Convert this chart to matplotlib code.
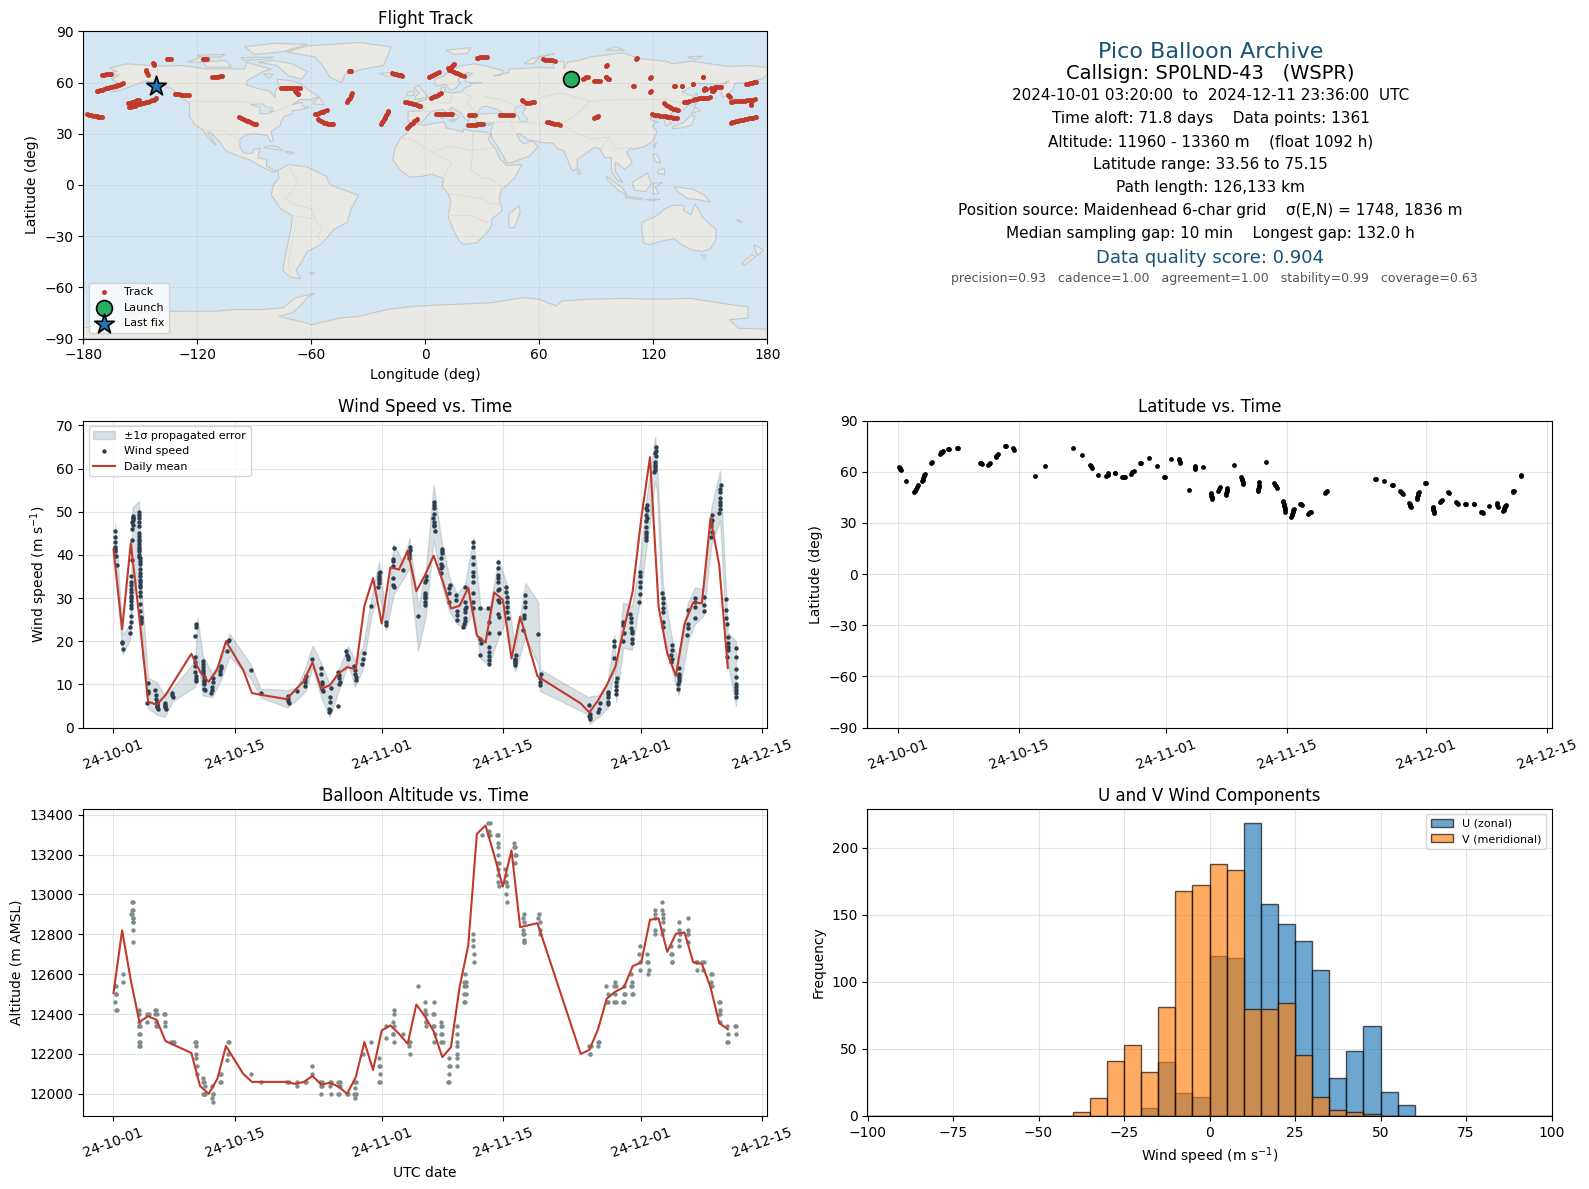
import matplotlib
matplotlib.use('Agg')
import matplotlib.pyplot as plt
import matplotlib.dates as mdates
from datetime import datetime
import numpy as np
import pandas as pd

# --- wind speed samples (days since 2024-10-01, m/s), one row per cluster ---
wind_t = [0.2,0.2,0.21,0.22,0.22,0.23,0.25,0.4,
 1.03,1.04,1.05,
 1.95,1.96,1.97,1.98,1.99,2.0,2.0,2.02,2.04,2.05,2.1,2.12,2.15,2.18,2.2,2.22,2.24,
 2.9,2.9,2.92,2.93,2.93,2.95,2.95,2.97,2.97,3.0,3.0,3.0,3.02,3.03,3.03,3.05,3.05,3.06,3.08,3.1,3.1,3.13,3.14,3.15,3.15,
 4.0,4.02,4.03,3.9,
 4.85,4.9,4.95,5.0,5.03,5.06,5.1,
 5.9,5.95,6.0,6.03,
 6.75,6.8,6.85,
 9.55,9.5,9.45,9.45,9.46,9.46,9.47,9.48,9.5,9.52,
 10.3,10.35,10.35,10.4,10.4,10.42,10.44,10.46,10.5,10.55,
 11.5,11.45,11.4,11.35,11.3,
 12.4,12.4,12.35,12.35,
 13.3,13.25,13.15,
 15.9,17.0,
 20.15,20.2,20.2,20.25,
 21.2,
 22.2,22.15,22.15,22.1,
 23.0,
 24.0,24.0,24.05,24.1,24.15,24.2,
 25.1,25.05,25.0,24.95,25.0,24.95,26.0,
 26.0,26.05,26.1,26.15,26.1,
 26.9,27.0,27.1,27.15,
 27.85,27.9,27.95,28.0,28.0,
 28.9,28.8,28.7,
 29.75,
 30.75,30.72,30.7,30.65,30.62,
 31.5,31.55,
 32.4,32.35,32.35,32.3,32.35,32.45,
 33.5,
 34.3,34.25,34.2,34.15,
 35.2,
 36.15,36.1,36.05,36.05,36.0,36.0,36.05,36.05,
 37.0,37.05,36.95,37.05,37.05,37.1,
 38.0,37.95,37.9,37.85,37.85,37.8,
 38.85,38.8,38.8,38.75,
 39.6,39.6,39.65,39.7,39.65,
 40.65,40.65,40.7,40.6,40.6,40.55,40.45,
 41.55,41.6,41.6,41.6,41.6,41.55,41.5,41.5,
 42.35,42.4,42.45,42.4,
 43.3,43.35,43.4,43.4,43.45,43.45,43.4,43.4,
 44.45,44.45,44.45,44.45,44.45,44.4,44.5,44.4,44.5,44.5,
 45.4,45.4,45.45,45.5,45.5,45.55,
 46.5,46.45,46.4,46.35,
 47.6,47.6,47.55,47.45,47.4,47.3,
 49.1,
 49.4,49.35,49.3,49.25,
 54.95,55.05,55.1,
 56.2,56.15,56.05,
 57.1,57.1,57.15,57.2,
 57.85,57.9,57.9,
 58.15,58.1,58.1,58.05,
 58.85,58.9,59.0,58.85,
 59.75,59.8,59.85,59.9,59.95,59.95,
 60.85,60.9,60.85,60.8,60.75,
 61.65,61.65,61.6,61.6,61.6,61.55,61.5,
 62.65,62.65,62.65,62.6,62.55,62.5,
 63.4,63.45,63.45,63.5,63.55,63.5,
 64.5,64.5,64.45,64.45,
 65.4,65.35,65.3,65.25,65.2,
 66.45,66.35,66.35,66.3,
 67.25,67.2,67.2,67.2,
 68.2,68.2,68.25,
 69.15,69.15,69.1,69.05,
 70.2,70.15,70.1,70.05,70.0,
 70.75,70.8,70.8,70.85,
 71.0,71.0,71.0,70.95,
 71.9,71.9,71.95,71.95,71.95,71.98,71.98,
 # denser parts of the columns
 2.2,2.22,2.05,2.02,2.0,1.98,
 2.95,2.96,3.0,3.03,3.05,3.06,3.07,3.12,
 5.0,5.05,6.0,10.4,10.45,
 30.7,30.68,32.35,34.2,
 36.05,37.0,37.02,37.05,38.0,37.95,
 40.65,40.6,41.6,41.58,44.45,44.5,45.45,46.45,46.42,
 55.0,55.05,57.15,58.1,
 59.85,59.9,60.85,61.6,61.62,61.58,61.55,
 62.62,62.6,62.55,63.45,64.5,65.3,65.3,
 69.1,69.12,70.1,70.12,70.08,71.0,71.95,71.95]
wind_v = [45.5,44.1,43.1,41.9,41.3,40.8,39.8,37.7,
 19.9,19.7,18.3,
 21.8,23.4,24.5,25.8,27.8,29.3,29.9,31.5,33,33.8,38.8,43.4,46,47.7,48.1,48.6,48.5,
 49.9,49.3,48.5,47.7,46.6,45.1,43.6,43.2,41.9,41.4,40.8,40,39.2,38.5,37.8,35.9,34.2,33.8,32.5,30.5,28.6,25.3,24.7,25.6,24.2,
 10.4,8.4,7.9,5.8,
 8.6,7.5,6.7,6,5.3,4.8,4.4,
 5.7,5.2,4.7,4.3,
 7.9,7.5,7.1,
 24.1,23.4,21.2,16.4,15.2,14.3,12.9,12,11.2,10.9,
 15.4,14.8,14.1,13.3,12.5,11.8,11,10,9,8.7,
 11.4,10.6,9.4,8.7,8.1,
 14.3,13.7,13.1,12.5,
 20.4,20,17.7,
 13.3,8,
 7.3,6.7,6.2,5.8,
 8.4,
 12,11.2,10.6,9.6,
 16,
 13.9,12.5,10.6,10,9,8.4,
 9.2,7,6,4.4,4,3.5,5.1,
 12.9,12.1,11.4,10.6,10,
 17.7,16.9,16.4,15.9,
 14.3,13.3,12.5,11.8,11,
 17.2,15.8,14.8,
 28.2,
 36.1,35.2,34.2,33.4,32.6,
 24.4,23.7,
 41.5,39.1,37.5,34.6,33,32.5,
 36.5,
 41.9,41.1,40.4,39.2,
 25.8,
 35,34.2,33.8,30.7,30.3,29.9,29.2,28.4,
 52.2,50.8,48.5,47.7,46.6,45.6,
 41.4,40.4,39.2,38,36.9,35.7,
 33,32.3,31.1,29.2,
 30.7,29.5,27.1,26.1,24.9,
 32.5,29.2,28,26.8,25.3,24.1,23.4,
 42.9,41.9,39.6,36.1,33.8,31.1,29.2,27.6,
 27.6,20.6,19.7,16.9,
 27.8,24.5,21.8,18.7,17.6,16.6,15.6,14.8,
 38.4,36.9,35.3,33.8,31.9,29.5,29.2,26.4,25.7,21.8,
 32.6,31.5,30.3,28,26.8,25.3,
 16.9,16,15.2,14.6,
 30.7,29.2,28,26.1,25.3,22.6,
 21.6,
 12.5,11.4,10.6,9.8,
 5.2,3.2,2.1,
 5.6,4.4,3.5,
 8.3,7.1,6,5.4,
 20.1,18.9,16.2,
 11.4,10.6,8.7,7.7,
 24.4,23.7,21.8,20,
 26.4,24.5,23,21.8,20.6,19.5,
 36.1,35,33.8,32.6,29.2,
 51.6,50.4,49.3,47.9,45.4,44.2,43.5,
 65.1,64.1,62.8,60.9,59.7,59.3,
 31.1,29.9,28.8,26.8,24.5,23.4,
 19.1,17.9,16.8,15.2,
 13.7,12.5,11.4,10.2,9,
 27.2,24.1,23,21.4,
 29.9,29,28,25.3,
 30.3,28.5,27,
 49.3,48.1,46.6,44.2,
 56.2,54.5,53.1,51.6,49.7,
 29.7,27.2,25.3,23.9,
 21,19.5,17.9,16.4,
 18.5,16.4,13.5,11.8,10.2,8.7,7.1,
 47.0,49.0,35.0,32.0,30.5,28.5,
 44.3,42.5,39.5,36.8,35.0,33.0,31.5,27.0,
 5.7,5.0,5.0,12.9,10.5,
 35.7,34.7,38.5,40.0,
 31.2,51.5,49.5,47.0,40.9,37.5,
 27.4,24.7,37.8,35.0,34.6,32.0,29.0,15.6,15.0,
 2.7,2.4,7.7,9.7,
 25.3,22.4,31.0,50.9,48.6,46.5,44.8,
 63.5,61.5,60.3,27.8,16.0,12.0,10.8,
 47.4,45.4,55.3,52.3,50.6,18.7,9.5,7.9]

# propagated error envelope
band_t = [0.2,1.05,1.95,2.2,2.95,3.1,3.3,4.0,5.0,5.9,6.8,9.45,9.7,10.3,11.4,12.4,13.4,15.8,17.0,20.1,21.2,22.2,23.0,24.0,25.0,26.1,27.1,27.9,28.8,29.8,30.7,31.5,32.4,33.5,34.2,35.2,36.1,37.0,37.9,38.8,39.7,40.6,41.6,42.4,43.4,44.5,45.4,46.4,47.6,49.1,49.3,54.9,55.0,56.1,57.1,57.9,58.1,58.9,59.9,60.8,61.6,62.6,62.8,63.5,64.5,65.3,66.4,67.2,68.2,69.1,70.1,70.8,71.0,71.95]
band_lo = [36.5,17,20.5,30,36,23,22,4.5,3,2.5,6,9.5,17,7.5,7,11,16.5,11.5,7,4.7,6.5,8.5,14,7,2.5,9,14.8,9.5,13.5,26,31,22.5,31,34.5,37,17.8,26,43.5,33.5,27,24,23,27,16,14.5,21,25,13,21,14.5,8.5,3,0.8,2.5,4.5,14,6,18.5,18,29,42,57,55,22,14,7.5,20,24,26,42.5,48,22,15,5]
band_hi = [47.3,21.5,24,51,52.5,40,30,11.5,10.5,7.5,9,15.5,25.5,16.8,12.5,15.8,21.8,14.8,9,8.7,9.3,14,19,15,10,13.8,18.9,15.5,18.5,30,38.5,25.5,42.5,38,44,28,36.6,56.3,43.3,34.9,31,33,44,28,27,39,33.5,18,33.5,29,13.5,7,7.2,7.5,10.5,21.5,13,29,28,38,53,67.4,62,33,21,15,29,32.5,32,51,59.5,31,22,20]

# daily means, shared day numbers (missing days have no data)
daily_t = [0,1,2,3,4,5,6,9,10,11,12,13,15,16,17,20,21,22,23,24,25,26,27,28,29,30,31,32,33,34,35,36,37,38,39,40,41,42,43,44,45,46,47,49,54,55,56,57,58,59,60,61,62,63,64,65,66,67,68,69,70,71]
daily_wind = [41.3,22.8,42.7,25.3,6.0,5.3,7.5,17.1,12.9,10.6,13.5,20,13.3,8,7.6,6.6,8.7,10.8,15.1,9,9.8,12.5,14,13.5,28.2,34.6,24.1,37.1,36.6,41,31.6,35.3,39.8,34.2,27.6,28.2,32.4,21.3,19.7,31.3,29.6,16,25.7,11.9,5.6,3.5,6.3,9.8,14.1,23,31.5,48.5,62.6,28,17.2,12,24.1,29,28.8,48.5,37.7,13.8]
daily_alt = [12505,12820,12570,12360,12390,12370,12265,12205,12040,12000,12075,12240,12100,12060,12060,12060,12050,12060,12090,12047,12055,12037,12000,12084,12260,12120,12318,12343,12301,12251,12448,12388,12314,12184,12234,12535,12744,13304,13346,13196,13040,13221,12836,12856,12200,12221,12324,12477,12513,12535,12640,12660,12873,12880,12712,12803,12809,12660,12652,12535,12355,12324]

# altitude samples, rows per cluster
alt_t = [0.2,0.3,0.25,0.25,0.2,0.25,0.4,
 1.05,1.05,
 2.1,2.2,2.1,2.2,2.15,2.05,2.2,2.25,2.2,2.3,2.3,2.3,
 3.0,3.0,3.0,2.9,3.1,2.9,3.05,2.9,3.05,2.9,3.05,3.0,
 3.85,4.1,3.9,
 4.85,4.95,4.85,5.0,4.9,4.9,5.0,
 5.85,5.95,5.95,5.9,
 6.7,6.85,6.95,
 9.45,9.55,9.5,9.5,9.55,9.6,9.65,
 10.4,10.3,10.45,10.55,10.6,10.4,10.5,
 11.4,11.5,11.35,11.55,11.45,
 12.3,12.45,12.3,12.45,
 13.25,13.35,13.2,13.15,
 15.9,17.0,
 20.1,20.25,
 21.2,21.2,
 22.1,22.3,
 23.0,23.0,
 23.9,24.1,23.95,24.1,24.0,
 25.0,25.15,25.0,25.1,
 26.0,26.15,26.05,26.15,25.95,26.1,
 26.95,27.1,
 27.85,28.0,27.9,27.85,28.0,27.95,
 28.85,
 29.8,
 30.7,30.75,30.65,30.75,30.7,30.75,
 31.5,31.55,
 32.4,32.4,32.3,32.45,32.35,32.4,32.35,
 33.5,
 34.15,34.3,34.2,34.25,
 35.25,
 36.0,36.05,35.95,36.1,36.1,36.15,36.1,
 37.0,37.05,36.95,37.05,36.95,37.1,37.0,
 37.9,37.85,38.0,37.85,38.0,37.9,38.05,
 38.75,38.85,38.8,38.8,38.75,38.7,
 39.7,39.75,39.7,39.65,39.7,39.65,39.65,
 40.6,40.55,40.7,40.5,40.7,40.5,40.7,40.55,40.65,
 41.55,41.6,41.6,41.65,41.65,
 42.55,
 43.3,43.5,43.4,43.45,43.5,
 44.35,44.45,44.4,44.45,44.45,44.4,44.5,44.45,44.4,44.45,44.55,
 45.3,45.4,45.35,45.4,45.45,45.35,45.45,
 46.3,46.25,46.45,46.5,46.4,46.45,
 47.45,47.35,47.45,47.35,47.3,47.45,47.5,47.5,47.45,
 49.15,49.1,49.25,49.3,49.35,
 55.0,55.15,55.05,55.1,
 56.0,56.15,56.05,
 56.95,57.1,57.05,57.2,
 58.0,57.9,58.05,58.0,57.85,58.05,
 59.0,58.95,59.1,58.9,59.05,
 59.85,59.9,59.95,59.8,60.0,59.9,
 60.9,60.75,60.9,60.85,
 61.7,61.75,61.65,61.9,61.8,
 62.6,62.6,62.6,62.55,62.6,
 63.4,63.4,63.45,63.5,63.45,63.45,63.4,
 64.4,64.55,64.45,64.55,64.5,
 65.35,65.4,65.45,65.3,65.4,
 66.35,66.45,66.35,66.45,66.4,
 67.3,67.4,67.4,
 68.05,68.2,68.1,
 69.05,69.2,69.1,69.0,69.2,
 69.95,70.05,70.05,70.1,70.0,70.05,
 70.95,71.0,70.9,71.05,
 71.85,72.0,71.9]
alt_v = [12540,12540,12500,12500,12460,12420,12420,
 12600,12560,
 12960,12960,12920,12920,12900,12900,12880,12880,12860,12860,12820,12760,
 12420,12400,12360,12340,12340,12300,12300,12260,12260,12240,12240,12340,
 12400,12400,12360,
 12420,12420,12400,12400,12360,12340,12340,
 12400,12400,12360,12340,
 12260,12260,12260,
 12260,12260,12240,12200,12180,12140,12100,
 12080,12060,12060,12040,12000,12000,12000,
 12040,12000,11980,11960,12000,
 12100,12100,12060,12060,
 12260,12260,12200,12170,
 12100,12060,
 12060,12060,
 12060,12040,
 12060,12060,
 12140,12100,
 12060,12060,12040,12040,12000,
 12060,12060,12040,12000,
 12060,12060,12040,12040,12000,12000,
 12000,12000,
 12060,12060,12030,12000,12000,11980,
 12200,
 12260,
 12180,12140,12140,12100,12060,12060,
 12340,12280,
 12420,12400,12360,12340,12300,12260,12300,
 12300,
 12260,12260,12240,12200,
 12540,
 12460,12420,12400,12400,12360,12340,12360,
 12460,12400,12400,12340,12340,12300,12260,
 12360,12340,12340,12300,12300,12260,12260,
 12180,12140,12140,12100,12060,12060,
 12340,12300,12260,12240,12200,12180,12140,
 12600,12560,12560,12540,12540,12500,12500,12460,12460,
 12800,12770,12740,12700,12660,
 13300,
 13360,13360,13320,13300,13300,
 13300,13300,13260,13240,13200,13160,13160,13130,13100,13060,13040,
 13130,13100,13060,13060,13040,13000,12960,
 13260,13240,13240,13200,13200,13160,
 12900,12880,12860,12820,12800,12800,12770,12760,12760,
 12900,12880,12860,12820,12800,
 12240,12240,12200,12200,
 12260,12260,12240,
 12540,12500,12460,12460,
 12560,12540,12540,12500,12460,12460,
 12540,12500,12500,12460,12460,
 12600,12560,12540,12540,12500,12500,
 12740,12700,12660,12620,
 12700,12660,12660,12620,12600,
 12920,12900,12880,12820,12800,
 12960,12920,12900,12880,12860,12820,12800,
 12740,12700,12700,12660,12660,
 12860,12820,12800,12770,12740,
 12880,12820,12800,12800,12760,
 12660,12660,12620,
 12660,12660,12620,
 12600,12600,12560,12540,12540,
 12460,12460,12420,12400,12400,12360,
 12340,12300,12260,12260,
 12340,12340,12300]

# latitude samples, several per short drift segment
lat_t = [0.1,0.2,0.3,0.4,1.0,1.9,2.0,2.1,2.2,2.3,2.85,2.9,2.95,3.0,3.05,3.1,3.85,3.95,4.85,4.95,5.05,5.15,5.25,5.8,5.95,6.85,6.95,9.5,9.6,9.7,10.45,10.55,10.65,11.3,11.4,11.5,11.6,12.35,12.45,13.35,13.45,15.9,17.0,20.2,21.3,22.25,22.35,22.45,23.1,24.1,24.25,24.35,25.05,25.15,25.95,26.1,26.25,27.0,27.1,27.25,27.95,28.1,29.0,29.9,30.75,30.9,31.6,32.5,32.55,32.6,32.65,33.6,34.3,34.35,34.4,35.3,36.2,36.22,36.25,36.28,36.3,37.0,37.1,37.2,37.9,37.95,38.0,38.05,38.1,38.9,39.7,39.75,39.8,39.85,39.9,41.6,41.65,41.7,41.75,41.8,42.6,43.5,43.6,43.7,43.8,44.5,44.55,44.6,44.65,44.7,44.75,44.8,45.5,45.55,45.6,45.65,45.7,45.75,46.5,46.6,46.7,47.4,47.5,47.6,47.7,49.4,49.5,49.6,55.1,55.3,56.2,57.15,57.25,58.05,58.15,58.25,58.35,59.1,59.15,59.2,59.25,59.3,60.0,60.05,60.1,60.15,60.2,60.95,61.05,61.8,61.85,61.9,61.95,62.0,62.65,62.75,62.85,63.55,63.65,64.55,64.65,64.75,65.5,65.7,66.55,66.65,67.45,67.55,67.65,68.3,69.2,69.3,69.4,70.0,70.05,70.1,70.15,70.2,70.3,71.05,71.15,71.25,72.0,72.05]
lat_v = [62.7,62.2,61.7,61.2,54.3,48,49,50,51,52,54.3,55.3,56.4,57.4,58.1,58.8,65,65.6,70.4,70.8,71.4,71.8,72.2,73.5,73.5,73.7,73.7,65.2,64.9,64.6,63.7,64.4,65.1,68.6,69.3,70,70.6,74.9,74.9,73.9,73,57.6,63.3,74.1,70,63.8,63.2,62.4,58.2,57.6,58.3,59,59.2,59.2,57,57,56.9,58.8,59.6,60.4,64.9,65.4,67.8,63.5,57,57,67.5,67.6,66.8,66,65.1,49.6,61.8,62.5,63.3,62.9,47.6,46.8,45.8,45,44.1,49,49.9,50.8,46.5,47.5,48.5,49.5,50.6,63.7,56.9,55.9,55,54,52.9,48.6,49.9,51,52.5,53.9,65.7,53.5,52.5,51.4,50.2,43.1,42,41,39.7,38.5,37.4,36.3,33.6,34.5,35.5,36.5,37.4,38.2,41.2,41,40.8,35.5,35.9,36.2,36.5,47.6,48.2,48.8,55.9,55.9,54.7,52.5,52.3,49,48.2,47.5,46.7,41.6,41,40.5,40,39.6,44.1,45.2,46.2,47.3,48.4,53.3,53.5,39.6,38.8,37.8,36.8,36,42.2,42.9,43.6,48,47.6,42.2,41.6,41,41,41.2,41.2,41,36.7,36.3,35.9,39.8,41.6,40.6,39.6,36.9,37.8,38.7,39.6,40.2,40.8,48,48.5,49,57.5,58]

# histogram counts per 5 m/s bin, -100..100
u_counts = [0]*16 + [6,40,17,14,119,118,218,158,143,130,109,28,48,67,18,8] + [0]*8
v_counts = [0]*12 + [3,13,41,53,33,81,168,172,188,183,80,80,84,45,14,4,3,1] + [0]*10
hist_edges = np.arange(-100, 105, 5)

# map track fixes, one row per drift segment
track_lon = [-178,-177,-176,-175,-174,-173,-172,-171,-170,
 -173,-172,-171,-170,-169,-168,-167,-166,-165,-164,-163,-162,-161,-160,-159,
 -170,-169,-168,-167,-166,-165.5,
 -156.5,-155.5,-154.5,-153.5,-152.5,-151.5,-150.5,
 -156,-155,-154,-153,-152,-151,-150,-149,-148,-147,-146,-145,-144,-143,-142,-141.5,
 -147,-146.7,-146.4,-146,-143.5,-143,-142.5,
 -136,-135,-134,
 -131.8,-130.5,-129.5,-128.5,-127.5,-126.5,-125.5,-124.2,
 -117,-116,-115,
 -112.3,-111,-110,-109,-108,-106.7,
 -97.8,-97,-96,-95,-94,-93,-92,-91,-90,-89.3,
 -76,-75,-74,-73,-72,-71,-70,-69,-68,-67,-66,-68.5,-68,-67.5,-67,-66.7,
 -40.2,-39.5,-38.8,
 -40.9,-40.5,-40.2,-39.8,-39.3,-38.9,-38.5,
 -57.8,-57,-56,-55,-54,-53,-51.9,
 -56.6,-56,-55,-54,-53,-52,-51,-50,-49,-48.4,
 -23,-22.6,-22.2,-21.8,-21.4,-21,-20.6,-20.2,-19.8,-19.5,
 -17.4,-16.5,-15.5,-14.5,-13.5,-12.8,-12,
 -9.6,-9,-8.2,-7.4,-6.6,-5.8,-5,-4.5,
 -10.4,-9.5,-8.5,-7.5,-6.5,-5.5,-4.5,-3.5,-2.6,
 2.1,3,4,5,6,7.3,
 3.3,4.2,5,5.8,6.6,7.5,8.4,
 12.2,13,14,15,16,17,18,19,20.2,12.5,13,13.5,14,14.5,15,
 5.6,6.5,7.5,8.5,9.5,10.5,11.5,12.5,13.5,14.3,
 22.5,23.5,24.5,25.5,26.5,27.5,28.5,29.5,30.3,
 23.2,24,25,26,
 27.2,28,29,30,31,32,32.6,
 39.2,40,41,42,43,44,45,46,
 51,51.5,53.1,54,55,56,57.3,
 62,63,64,65,66,67,68.1,
 63.9,65,66,67,68,69,70,70.9,
 83.2,84,84.8,85.5,89,90,91,91.9,
 95.4,95.6,
 94.9,95.4,95.8,96.2,96.6,
 89,89.7,90.4,91,
 109.5,109.9,110.9,111.3,118.4,118.6,118.4,118.6,
 119.6,120.5,121.5,122.5,123.5,124.5,125.5,126.5,127.5,128.5,129.5,130.5,131.5,132.5,
 125.9,126.8,127.7,128.6,129.5,130.5,131.5,132.3,133,
 130.9,131.5,134.9,135.3,140.7,141.2,
 136,137,138,139,140.7,141.9,143,144,145,146,147,148,149,150.1,
 146.1,146.4,147,147,147.4,147.6,
 150.6,151.5,152.5,153.5,154.5,155.5,150.8,151.5,152.2,
 159.5,159.9,160.2,
 160.7,161.5,162.5,163.5,164.5,165.5,166.5,167.5,168.5,169.5,170.5,171.5,172.5,173.6,171.3,171.7,
 160.7,161.5,162.5,163.5,164.5,165.5,166.5,167.5,168.5,169.5,170.5,171.5,172.5,173.4,174.1,
 168.9,170,171,172,173.2,174.3]
track_lat = [41.5,41.2,41,40.7,40.5,40.2,40,40,40,
 54.8,55.2,55.5,55.9,56.2,56.6,56.9,57.3,57.6,57.9,58.2,58.5,58.8,59.2,59.5,
 64.3,64.6,64.8,64.9,65,65,
 47.8,48.1,48.4,48.8,49.1,49.6,50,
 45.5,45.9,46.2,46.5,46.9,47.2,47.5,47.9,48.2,48.5,48.9,49.2,49.5,49.8,50.4,50.8,
 67.3,66.5,65.5,64.4,71.2,70.7,70.2,
 73.6,73.6,73.6,
 53.3,53.2,53.1,53,52.8,52.7,52.6,52.5,
 73.6,73.6,73.6,
 63.4,63.4,63.5,63.5,63.6,63.6,
 39.6,39.2,38.6,38.2,37.6,37.3,37,36.5,36,35.5,
 56.6,56.6,56.7,56.7,56.8,56.8,56.8,56.9,56.9,57,57,55,54.5,54,53.6,53.3,
 66.9,67,67,
 48.8,49.6,50.3,51,52,53,54,
 41.3,41.7,42.2,42.6,43,43.5,43.9,
 38.6,38,37.5,37,36.5,36.2,36,36,36,36,
 36,36.8,37.6,38.4,39.2,40,40.8,41.6,42.6,43.5,
 65.4,65.1,64.9,64.7,64.4,64.2,64,
 33.5,34.1,35,35.8,36.6,37.4,38.1,38.6,
 48.8,48.5,48.2,47.9,47.5,47.2,46.9,46.5,46.2,
 63,63.6,64.2,64.9,65.6,66.4,
 50.7,51.5,52,52.4,52.9,53.3,53.7,
 68.3,67.5,67,66.4,65.9,65.4,65,64.5,64,67.3,68,69,69.6,70.2,70.8,
 41.3,41.3,41.3,41.3,41.3,41.3,41.3,41.3,41.3,41.3,
 34.9,35,35.1,35.3,35.4,35.6,35.8,35.9,36,
 40.8,40.8,40.8,40.8,
 74.6,74.7,74.8,74.8,74.8,74.8,74.8,
 40.8,40.8,40.8,40.8,40.8,40.8,40.8,40.8,
 49.5,49,48.2,48.2,48.2,48.4,48.6,
 73.6,73.5,73.4,73.2,73.1,73,72.8,
 37,36.8,36.5,36.2,36,35.8,35.6,35.3,
 61.9,62.5,63,63.4,61,60.9,60.8,60.7,
 70,70.5,
 63.4,63,62.6,62.2,61.9,
 39.4,39.8,40.1,40.4,
 57.8,57.8,74,74.4,62.4,63,54.2,54.8,
 41.3,41.1,41,40.8,40.7,40.5,40.3,40.2,40,39.8,39.6,39.4,39.2,39,
 47.8,47.1,46.4,45.8,45.3,44.8,44.3,44.1,43.9,
 57.9,57.9,58.1,58.1,59.3,59.3,
 48.4,48.6,48.8,49.1,49.7,50.5,50.6,50.7,50.8,50.9,51,51.1,51.2,51.3,
 63,63.2,55.6,56.4,57,56.2,
 57,57.1,57.3,57.4,57.5,57.6,55,55,55.4,
 52.7,52,51.5,
 48.8,48.9,49,49.1,49.1,49.2,49.2,49.3,49.4,49.5,49.6,49.7,49.9,50.1,47.4,46.9,
 36.5,36.7,37,37.3,37.5,37.8,38,38.3,38.5,38.8,39,39.3,39.5,39.8,40,
 58.9,59.3,59.6,59.9,60.1,60.3]
launch_lon, launch_lat = [76.5], [62.0]
last_lon, last_lat = [-141.6], [58.0]

# land outlines (lon, lat)
eurasia = [(-9,37),(-9,43),(-2,43.5),(-1,46),(-4.5,48.5),(1.5,50.5),(4,52),(8,54),(8.5,57),(10.5,57.5),(10.5,54.5),(14,54),(19,54.5),(21,57),(24,58),(24,59.5),(30,60),(23,60),(21,61),(22,63.5),(25,65.5),(22,65.8),(18,63),(17,61),(18.5,60),(16,56.5),(13,55.5),(11,59),(6,58),(5,60),(5,62),(10,64),(14,68),(20,70),(26,71),(31,70),(41,67),(40,64.5),(36,64),(44,66),(44,68),(54,68.5),(60,69),(68,68.5),(67,72),(73,72.5),(73,68),(75,72),(81,73),(87,75),(104,77.5),(113,74),(127,72.5),(130,71),(140,72.5),(150,71),(160,69.5),(170,70),(180,69),(180,65),(178,62.5),(170,60),(163,59.5),(162,56),(156.5,51),(155.5,57),(160,61),(155,59),(143,59.5),(135,54.5),(141,52),(140,48),(135,43.5),(130,42.5),(127.5,39.5),(129.5,36),(126.5,34.5),(126,37.5),(125,39.5),(121,39),(122,40.5),(118,39),(120,37.5),(122.5,37),(119.5,35),(122,31),(120,26),(116,22.8),(110,21),(108,21.5),(106,19),(109,13),(105,9),(103,11),(100,13.5),(100,8),(104,1.5),(101,3),(98,8),(98,16),(94.5,16),(92,21),(89,22),(86.5,20),(80,15),(80,10),(77.5,8),(73,20),(70,21),(67,24.5),(61,25),(57,26),(54,26.5),(50,30),(48,30),(50,26),(52,24),(56,26),(59.5,22.5),(55,17),(45,13),(43,13),(39,21),(35,28),(34.5,31.5),(36,36.5),(30,36),(27,37),(26,39.5),(26,41),(23,40),(23,37),(20,40),(19,42),(14,45.5),(12.5,44),(18,40),(16,38),(12,42),(9,44.3),(3,43),(0,39),(-2,36.7),(-5.5,36)]
africa = [(-6,35.8),(-1,35),(10,37),(11,33.5),(20,31),(20,32.8),(25,31.5),(32,31),(34.5,29.5),(33,27),(37,21),(39.5,15),(43,11.5),(51,12),(47,4),(40,-3),(39,-8),(40.5,-15),(35,-20),(35,-24),(32.5,-28),(27,-34),(20,-34.8),(18,-33),(15,-27),(12,-18),(13.5,-10),(12,-5),(9,-1),(9.5,4),(5,5.5),(4,6.5),(-2,5),(-8,4.5),(-13,8.5),(-17,14.7),(-16,21),(-13,27.5),(-10,30)]
north_america = [(-168,65.5),(-162,66.5),(-166,68.5),(-157,71),(-141,69.7),(-128,70),(-115,68),(-108,68),(-95,68),(-94,72),(-85,69),(-81,68),(-86,66),(-94,61),(-94,58.5),(-88,56.5),(-82,55),(-79,51.5),(-79,55),(-77,58),(-78,62),(-70,61),(-65,59),(-60,54.5),(-56,52),(-60,50),(-66,50),(-70,47),(-65,48.5),(-64.5,46),(-61,45.5),(-66,44),(-70,43.5),(-70,41.5),(-74,40.5),(-76,37),(-76,35),(-81,31.5),(-80,25.5),(-81.5,25.5),(-83,29),(-89,30),(-94,29.5),(-97.5,27),(-97.5,22),(-95,18.5),(-91,18.5),(-90,21),(-87,21.5),(-88,16),(-83.5,15),(-83.5,11),(-80,9),(-77.5,8.5),(-80,7.5),(-85,10),(-92,14.5),(-96,16),(-105,20),(-108,25),(-113,31),(-114.5,31),(-110,23),(-112,25),(-115,29),(-117,32.5),(-121,35),(-124,40),(-124,48),(-128,51),(-133,56),(-140,60),(-147,61),(-152,59),(-160,55.5),(-165,54.5),(-158,58.5),(-162,60),(-165,62),(-161,64.5)]
south_america = [(-77.5,8.5),(-72,12),(-62,10.5),(-52,5),(-50,0),(-44,-2.5),(-35,-6),(-39,-14),(-41,-22),(-48,-26),(-54,-34),(-57,-36),(-62,-39),(-65,-45),(-68,-50),(-65.5,-55),(-71,-54),(-75,-50),(-73,-38),(-70.5,-25),(-70,-18),(-76,-14),(-81,-6),(-80,0),(-77,4)]
australia = [(114,-22),(122,-18),(126,-14),(130,-12),(136,-12),(136,-15),(140,-17.5),(142,-11),(146,-19),(153,-26),(153,-32),(150,-37.5),(146,-39),(140,-38),(135,-35),(131,-31.5),(124,-33),(118,-35),(115,-34),(114,-26)]
greenland = [(-73,78),(-62,81.5),(-35,83.5),(-18,81),(-20,75),(-22,70),(-32,68),(-42,65),(-44,60),(-50,63),(-54,70),(-58,75)]
antarctica = [(-180,-84),(-160,-79),(-150,-74.5),(-130,-74),(-110,-74),(-100,-73),(-85,-73),(-75,-72),(-68,-66),(-58,-63.5),(-62,-66),(-65,-70),(-70,-75),(-77,-77),(-62,-81),(-60,-82),(-45,-78),(-35,-77),(-20,-73),(-5,-71),(15,-70),(35,-69),(52,-66),(60,-67),(69,-71),(72,-68),(85,-67),(106,-66.5),(120,-67),(140,-66.5),(160,-70),(170,-71.5),(170,-78),(160,-79),(165,-84),(180,-84.5),(180,-90),(-180,-90)]
islands = [
 [(-80,73),(-70,71),(-62,66.5),(-65,62),(-72,64),(-78,70),(-88,72)],
 [(-117,72),(-105,73),(-102,69),(-115,69)],
 [(-90,76.5),(-75,78),(-62,82.5),(-80,83),(-95,81)],
 [(-125,72),(-118,75),(-117,72)],
 [(-97,74.5),(-80,75),(-82,74),(-95,73)],
 [(-120,76),(-105,76.5),(-108,75),(-118,75)],
 [(-85,65),(-80,65),(-82,62.5)],
 [(-59,48),(-56,51.5),(-53,47),(-59,47.5)],
 [(-85,22),(-75,20),(-78,22.5),(-82,23)],
 [(-74,19.8),(-69,19),(-71,18)],
 [(-5.5,50),(1.5,51.5),(-2,56),(-3,58.5),(-6,57),(-3,54),(-5,52)],
 [(-10,52),(-6,52.5),(-6,55),(-9,54.5)],
 [(-24,65.5),(-15,66),(-14,64.5),(-20,63.5)],
 [(11,79),(24,80.5),(22,77),(15,76.5)],
 [(52,71),(56,74),(68,77),(60,75),(57,71)],
 [(95,79),(105,79),(100,81)],
 [(138,75),(146,75.5),(142,73.5)],
 [(12.5,38),(15.5,38.2),(15,36.7)],
 [(8.2,41),(9.7,41),(9.5,39),(8.4,39)],
 [(23.5,35.5),(26,35.2),(24,35)],
 [(32.5,35),(34.5,35.6),(33,34.6)],
 [(130,33),(135,33.5),(140,35),(142,40),(140,41),(136,36.5),(131,34.5)],
 [(140,42),(145,43.5),(142,45.5)],
 [(142,46),(143.5,50),(143,54),(142,53)],
 [(120,23),(121.8,25),(121,22)],
 [(120,18),(122,18),(124,13),(121,13.5)],
 [(122,7),(126,6),(126,9.5),(123,9)],
 [(95,5.5),(104,-2),(106,-6),(101.5,-3),(96,3)],
 [(105,-6.5),(114.5,-7.8),(114,-8.7),(106,-7.5)],
 [(116,-8.5),(124,-8.3),(119,-9.5)],
 [(109,1.5),(117,7),(119,1),(116,-4),(110,-3)],
 [(120,1),(125,1.5),(121,-1),(123,-5),(120,-5.5)],
 [(131,-1),(141,-2.5),(147,-6),(150,-10),(143,-8.5),(138,-8),(133,-4)],
 [(145,-41),(148,-41),(147,-43.5)],
 [(173,-35),(178,-38),(175,-41.5),(174,-39)],
 [(172,-41),(174,-42),(168,-47),(166.5,-46)],
 [(49.5,-12),(50,-16),(47,-25),(44,-25),(44,-17)],
 [(80,9.5),(82,7),(80.5,6)],
 [(-61,-51.5),(-58,-51.5),(-59,-52.5)],
 [(164,-20),(167,-22),(165,-21.8)],
]
inland_water = [
 [(28,41.5),(35,42),(41.5,41.5),(38,44.5),(35,45),(33,46),(30,46),(28,43.5)],
 [(47,45),(51,47),(53,45),(51,42),(54,39),(53,36.8),(50,37.5),(49,40),(47,43)],
 [(-92,47),(-85,47.5),(-84.5,46),(-80,45),(-82,43),(-79,43.5),(-83,41.7),(-87,42),(-87,45.5)],
]
borders = [
 [(-141,69.7),(-141,60),(-133,56)],
 [(-124,49),(-95,49),(-83,46),(-79,43),(-75,45),(-70,47)],
 [(-117,32.5),(-106,31.5),(-97.5,26)],
 [(-70,-18),(-58,-20),(-54,-26),(-57,-30),(-54,-34)],
 [(-72,12),(-67,2),(-70,-4),(-74,-7),(-70,-11),(-60,-14),(-58,-20)],
 [(-70,-18),(-68,-23),(-70,-33),(-72,-45),(-71,-52)],
 [(-13,27.5),(-8,27),(4,19),(12,23),(25,20),(36,22)],
 [(25,31.5),(25,20),(24,9),(30,4),(34,4),(41,-2)],
 [(9.5,4),(14,13),(4,19)],
 [(12,-5),(30,-8),(34,-11),(40.5,-11)],
 [(12,-18),(24,-18),(33,-22)],
 [(28,41.5),(22,48),(24,52),(19,54.5)],
 [(6,49),(8,48),(13,48),(14,51),(14,54)],
 [(-2,43.5),(3,43)],
 [(31,52),(40,50),(48,46),(60,51),(71,54),(87,49),(98,50),(117,50),(127,50),(135,48),(131,43)],
 [(48,30),(44,37),(60,36),(61,25)],
 [(36,36.5),(44,37),(48,40)],
 [(74,35),(78,31),(88,27),(97,28),(92,21)],
 [(97,28),(100,21),(106,22)],
 [(61,36),(74,37),(80,42),(87,49)],
]

fig = plt.figure(figsize=(15.89, 11.89), dpi=100)
W, H = 1589.0, 1189.0


def add_ax(x0, y0, x1, y1):
    return fig.add_axes([x0 / W, 1 - y1 / H, (x1 - x0) / W, (y1 - y0) / H])


def to_dates(days):
    return pd.Timestamp('2024-10-01') + pd.to_timedelta(np.array(days, dtype=float), unit='D')


base_num = mdates.date2num(datetime(2024, 10, 1))


def time_axis(ax):
    ax.set_xlim(base_num - 3.5, base_num + 75.55)
    ax.set_xticks([mdates.date2num(datetime(2024, m, d)) for m, d in [(10, 1), (10, 15), (11, 1), (11, 15), (12, 1), (12, 15)]])
    ax.xaxis.set_major_formatter(mdates.DateFormatter('%y-%m-%d'))
    ax.tick_params(axis='x', labelrotation=20)
    ax.grid(True, alpha=0.35)
    ax.set_axisbelow(True)


RED = '#c0392b'

# Flight track
ax_map = add_ax(83.2, 31.4, 767.2, 338.5)
ax_map.set_facecolor('#d4e6f1')
for outline in [eurasia, africa, north_america, south_america, australia, greenland, antarctica] + islands:
    xs, ys = zip(*outline)
    ax_map.fill(xs, ys, facecolor='#e8e8e4', edgecolor='#c4c8c8', lw=0.8, zorder=1)
for outline in inland_water:
    xs, ys = zip(*outline)
    ax_map.fill(xs, ys, facecolor='#d4e6f1', edgecolor='#c4c8c8', lw=0.7, zorder=1.1)
for line in borders:
    xs, ys = zip(*line)
    ax_map.plot(xs, ys, color='#dbdcd8', lw=0.7, zorder=1.2)
ax_map.scatter(track_lon, track_lat, s=9, linewidths=0.5, color=RED, zorder=3, label='Track')
ax_map.scatter(launch_lon, launch_lat, s=130, color='#27ae60', edgecolor='black', linewidth=1.2, zorder=4, label='Launch')
ax_map.scatter(last_lon, last_lat, s=220, marker='*', color='#1f77b4', edgecolor='black', linewidth=1.2, zorder=4, label='Last fix')
ax_map.set_xlim(-180, 180)
ax_map.set_ylim(-90, 90)
ax_map.set_xticks(np.arange(-180, 181, 60))
ax_map.set_yticks(np.arange(-90, 91, 30))
ax_map.grid(True, color='gray', alpha=0.18, lw=0.6, linestyle='--', zorder=2)
ax_map.set_xlabel('Longitude (deg)')
ax_map.set_ylabel('Latitude (deg)')
ax_map.set_title('Flight Track', fontsize=12, pad=5.5)
ax_map.legend(loc='lower left', fontsize=8)

# summary text
ax_info = add_ax(867.5, 31.4, 1551.5, 338.5)
ax_info.axis('off')
info_lines = [
    ('Pico Balloon Archive', 51, 16, '#1a5276', 0),
    ('Callsign: SP0LND-43   (WSPR)', 73, 14, 'black', 0),
    ('2024-10-01 03:20:00  to  2024-12-11 23:36:00  UTC', 94, 11, 'black', 0),
    ('Time aloft: 71.8 days    Data points: 1361', 117, 11, 'black', 0),
    ('Altitude: 11960 - 13360 m    (float 1092 h)', 140, 11, 'black', 0),
    ('Latitude range: 33.56 to 75.15', 162, 11, 'black', 0),
    ('Path length: 126,133 km', 185, 11, 'black', 0),
    ('Position source: Maidenhead 6-char grid    σ(E,N) = 1748, 1836 m', 208, 11, 'black', 0),
    ('Median sampling gap: 10 min    Longest gap: 132.0 h', 230, 11, 'black', 0),
    ('Data quality score: 0.904', 255, 13, '#1a5276', 0),
    ('precision=0.93   cadence=1.00   agreement=1.00   stability=0.99   coverage=0.63', 275, 9, '#555555', 4),
]
for txt, ypx, size, col, dx in info_lines:
    ax_info.text(0.5 + (1 + dx) / 684.0, 1 - (ypx - 31) / 303.0, txt, transform=ax_info.transAxes,
                 ha='center', va='center', fontsize=size, color=col)

# Wind speed
ax_wind = add_ax(83.2, 420.6, 767.2, 727.6)
ax_wind.fill_between(to_dates(band_t), band_lo, band_hi, color='#78909c', alpha=0.28, label='±1σ propagated error')
ax_wind.scatter(to_dates(wind_t), wind_v, s=10, linewidths=0, color='#2c3e50', label='Wind speed', zorder=3)
ax_wind.plot(to_dates(daily_t), daily_wind, color=RED, lw=1.5, label='Daily mean', zorder=4)
time_axis(ax_wind)
ax_wind.set_ylim(0, 71.1)
ax_wind.set_yticks(np.arange(0, 71, 10))
ax_wind.set_ylabel('Wind speed (m s$^{-1}$)')
ax_wind.set_title('Wind Speed vs. Time', fontsize=12)
ax_wind.legend(loc='upper left', fontsize=8)

# Latitude
ax_lat = add_ax(867.5, 420.6, 1551.5, 727.6)
ax_lat.scatter(to_dates(lat_t), lat_v, s=12, linewidths=0, color='black', zorder=3)
time_axis(ax_lat)
ax_lat.set_ylim(-90, 90)
ax_lat.set_yticks(np.arange(-90, 91, 30))
ax_lat.set_ylabel('Latitude (deg)')
ax_lat.set_title('Latitude vs. Time', fontsize=12)

# Altitude
ax_alt = add_ax(83.2, 808.7, 767.2, 1115.8)
ax_alt.scatter(to_dates(alt_t), alt_v, s=10, linewidths=0, color='#7f8c8d', zorder=3)
ax_alt.plot(to_dates(daily_t), daily_alt, color=RED, lw=1.5, zorder=4)
time_axis(ax_alt)
ax_alt.set_ylim(11890, 13430)
ax_alt.set_yticks(np.arange(12000, 13401, 200))
ax_alt.set_xlabel('UTC date')
ax_alt.set_ylabel('Altitude (m AMSL)')
ax_alt.set_title('Balloon Altitude vs. Time', fontsize=12, pad=5.5)

# U and V histograms
ax_hist = add_ax(867.5, 808.7, 1551.5, 1115.8)
centers = hist_edges[:-1] + 2.5
ax_hist.hist(centers, bins=hist_edges, weights=u_counts, alpha=0.65, color='C0', edgecolor='black', label='U (zonal)')
ax_hist.hist(centers, bins=hist_edges, weights=v_counts, alpha=0.65, color='C1', edgecolor='black', label='V (meridional)')
ax_hist.set_xlim(-100, 100)
ax_hist.set_ylim(0, 229)
ax_hist.set_xticks(np.arange(-100, 101, 25))
ax_hist.set_yticks(np.arange(0, 201, 50))
ax_hist.grid(True, alpha=0.35)
ax_hist.set_axisbelow(True)
ax_hist.set_xlabel('Wind speed (m s$^{-1}$)')
ax_hist.set_ylabel('Frequency')
ax_hist.set_title('U and V Wind Components', fontsize=12, pad=5.5)
ax_hist.legend(loc='upper right', fontsize=8)

plt.savefig('out.png', dpi=100)
